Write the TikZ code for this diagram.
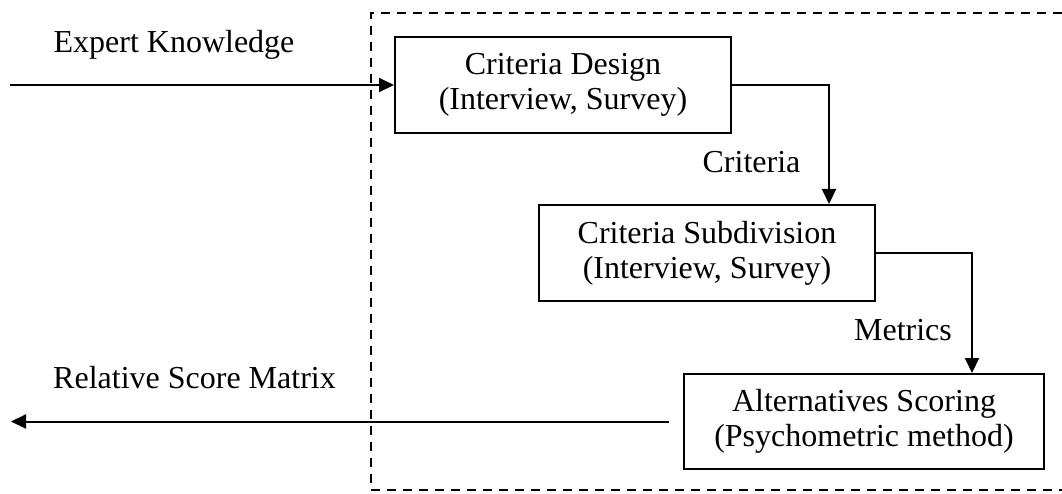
\documentclass[tikz,border=0pt]{standalone}
\usepackage{fontspec}
\setmainfont{Liberation Serif}
\usetikzlibrary{arrows.meta}

\begin{document}
\begin{tikzpicture}[x=1pt,y=-1pt,
  every node/.style={font=\fontsize{32}{35}\selectfont, inner sep=0pt},
  stage/.style={draw, line width=2pt, align=center, minimum height=96pt},
  flow/.style={line width=2pt, -{Triangle[length=15pt,width=14pt]}},
  lbl/.style={anchor=base},
  frame/.style={dashed, line width=2pt, dash pattern=on 9pt off 7pt}
]
\useasboundingbox (0,0) rectangle (1062,494);

% enclosing dashed frame (open on the right)
\draw[frame] (1062,13) -- (371,13) -- (371,490) -- (1062,490);

% process stages
\node[stage, minimum width=336pt] (design) at (563,85)
  {Criteria Design\\(Interview, Survey)};
\node[stage, minimum width=336pt] (subdiv) at (707,253)
  {Criteria Subdivision\\(Interview, Survey)};
\node[stage, minimum width=360pt, minimum height=95pt] (scoring) at (864,421.5)
  {Alternatives Scoring\\(Psychometric method)};

% free ends of the input and output arrows
\coordinate (src) at (10,85);
\coordinate (dst) at (11,421.5);

% labels
\node[lbl] (lin)  at (174,53)  {Expert Knowledge};
\node[lbl] (lout) at (194.5,388) {Relative Score Matrix};
\node[lbl] (lcrit) at (751.5,173) {Criteria};
\node[lbl] (lmet)  at (903,340)  {Metrics};

% connectors
\draw[flow] (src) -- (design.west);
\draw[flow] (design.east) -| ([xshift=-47pt]subdiv.north east);
\draw[flow] (subdiv.east) -| ([xshift=-73pt]scoring.north east);
\draw[flow] ([xshift=-14pt]scoring.west) -- (dst);
\end{tikzpicture}
\end{document}
